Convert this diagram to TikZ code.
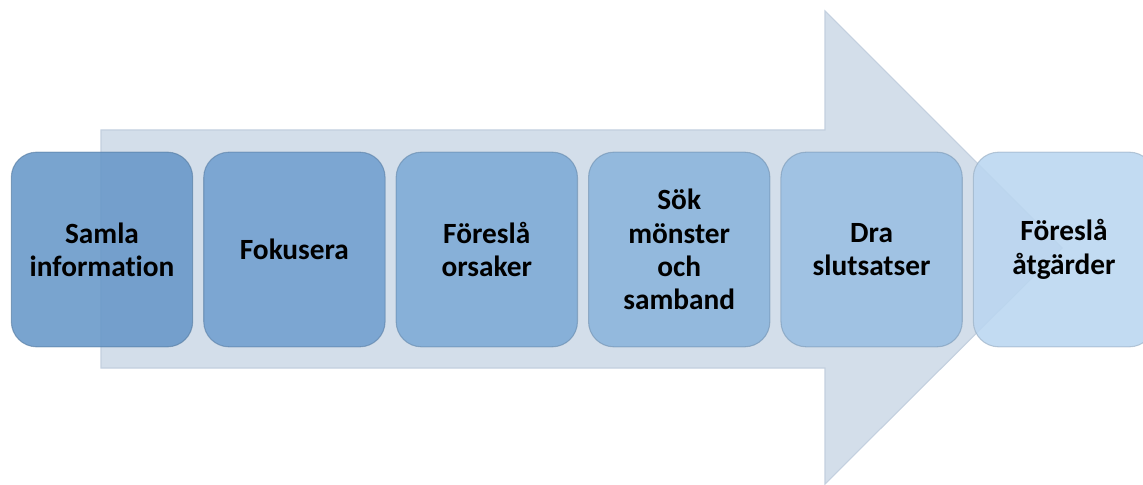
\documentclass[tikz,border=0pt]{standalone}
\usepackage{fontspec}
\setmainfont{Carlito}[Ligatures=NoCommon]
\usetikzlibrary{positioning}

\definecolor{arrowbg}{HTML}{D3DEEA}
\definecolor{arrowline}{HTML}{C3D0DF}
\definecolor{stepA}{HTML}{6797C8}
\definecolor{stepB}{HTML}{709FCF}
\definecolor{stepC}{HTML}{7DAAD6}
\definecolor{stepD}{HTML}{8BB4DC}
\definecolor{stepE}{HTML}{9ABFE3}
\definecolor{stepF}{HTML}{BAD6F0}

\tikzset{
  stage/.style={draw=#1!80!black, line width=0.8pt, fill=#1, fill opacity=0.88,
    draw opacity=0.6, text opacity=1, rounded corners=19pt,
    minimum width=136pt, minimum height=146pt, align=center,
    font=\bfseries\fontsize{22}{25}\selectfont, inner sep=0pt}
}

\begin{document}
\begin{tikzpicture}[x=0.75pt, y=-0.75pt, node distance=7.5pt]
    \useasboundingbox (0,0) rectangle (1143,485);

    % big background arrow
    \coordinate (tail top) at (101,130);
    \coordinate (tail bot) at (101,368);
    \coordinate (neck top) at (825,130);
    \coordinate (neck bot) at (825,368);
    \coordinate (barb top) at (825,11);
    \coordinate (barb bot) at (825,484);
    \coordinate (tip) at (1062,248);
    \filldraw[fill=arrowbg, draw=arrowline, line width=0.8pt]
      (tail top) -- (neck top) -- (barb top) -- (tip) -- (barb bot) -- (neck bot) -- (tail bot) -- cycle;

    % steps
    \node[stage=stepA] (collect) at (102,249.5) {Samla\\information};
    \node[stage=stepB, right=of collect] (focus) {Fokusera};
    \node[stage=stepC, right=of focus] (causes) {Föreslå\\orsaker};
    \node[stage=stepD, right=of causes] (patterns) {Sök\\mönster\\och\\samband};
    \node[stage=stepE, right=of patterns] (conclude) {Dra\\slutsatser};
    \node[stage=stepF, right=of conclude] (actions) {Föreslå\\åtgärder};
  \end{tikzpicture}
\end{document}
